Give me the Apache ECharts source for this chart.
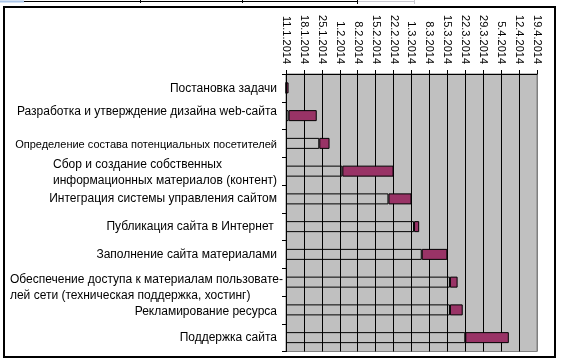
<!DOCTYPE html>
<html><head><meta charset="utf-8">
<script src="https://cdn.jsdelivr.net/npm/echarts@6/dist/echarts.min.js"></script>
<style>html,body{margin:0;padding:0;background:#fff}#c{width:561px;height:361px}</style>
</head><body><div id="c"></div>
<script>
// Tasks (top to bottom)
var tasks = [
  'Постановка задачи',
  'Разработка и утверждение дизайна web-сайта',
  'Определение состава потенциальных посетителей',
  'Сбор и создание собственных\nинформационных материалов (контент)',
  'Интеграция системы управления сайтом',
  'Публикация сайта в Интернет ',
  'Заполнение сайта материалами',
  'Обеспечение доступа к материалам пользовате-\nлей сети (техническая поддержка, хостинг)',
  'Рекламирование ресурса',
  'Поддержка сайта'
];
// Start dates and durations (days)
var startDates = ['2014-01-11','2014-01-12','2014-01-24','2014-02-02','2014-02-20','2014-03-02','2014-03-05','2014-03-16','2014-03-16','2014-03-22'];
var durations = [1, 11, 4, 20, 9, 2, 10, 3, 5, 17];
// Axis tick labels (weekly)
var tickLabels = ['11.1.2014','18.1.2014','25.1.2014','1.2.2014','8.2.2014','15.2.2014','22.2.2014','1.3.2014','8.3.2014','15.3.2014','22.3.2014','29.3.2014','5.4.2014','12.4.2014','19.4.2014'];
var axisStart = '2014-01-11';

function dayNum(s){ var p = s.split('-'); return Date.UTC(+p[0], +p[1]-1, +p[2]) / 86400000; }
var base = dayNum(axisStart);
var offsets = startDates.map(function(s){ return dayNum(s) - base; });

var FONT = "'Liberation Sans', Arial, sans-serif";
var labelStyleByIndex = {
  0: { padding: [2, 0, 0, 0] },
  1: { padding: [0, 0, 8, 0] },
  2: { fontSize: 11, padding: [3, 0, 0, 0] },
  3: { padding: [4, 0, 0, 0] },
  7: { padding: [12, -6, 0, 0] },
  8: { padding: [3, 0, 0, 0] }
};
var yData = tasks.map(function(t, i){
  var o = { value: t };
  if (labelStyleByIndex[i]) o.textStyle = labelStyleByIndex[i];
  return o;
});
var splitColors = tickLabels.map(function(_, i){ return i === tickLabels.length - 1 ? '#808080' : '#000'; });

var chart = echarts.init(document.getElementById('c'), null, {renderer: 'canvas'});
chart.setOption({
  animation: false,
  backgroundColor: '#fff',
  grid: { left: 286, right: 24, top: 74, bottom: 9.5, show: true, backgroundColor: '#C0C0C0', borderColor: '#808080', borderWidth: 1, containLabel: false },
  xAxis: {
    type: 'value', position: 'top', min: 0, max: (tickLabels.length - 1) * 7, interval: 7,
    axisLine: { show: true, lineStyle: { color: '#000', width: 1 } },
    axisTick: { show: true, length: 4, lineStyle: { color: '#000' } },
    splitLine: { show: true, lineStyle: { color: splitColors, width: 1 } },
    axisLabel: {
      rotate: 90, margin: 10, color: '#000', fontSize: 11, fontFamily: FONT, padding: [8, 0, 0, 0],
      formatter: function(v){ return tickLabels[Math.round(v / 7)] || ''; }
    }
  },
  yAxis: {
    type: 'category', inverse: true, data: yData,
    axisLine: { show: true, lineStyle: { color: '#000', width: 1 } },
    axisTick: { show: true, length: 4, inside: false, lineStyle: { color: '#000' } },
    splitLine: { show: false },
    axisLabel: {
      margin: 9, color: '#000', fontSize: 12, fontFamily: FONT, align: 'right', lineHeight: 16,
      formatter: function(v){
        if (v.indexOf('\n') < 0) return v;
        return v.split('\n').map(function(l){ return '{a|' + l + '}'; }).join('\n');
      },
      rich: { a: { align: 'left', fontSize: 12, lineHeight: 16, fontFamily: FONT, color: '#000' } }
    }
  },
  series: [
    { type: 'bar', stack: 'g', data: offsets, barWidth: 11,
      itemStyle: { color: 'rgba(0,0,0,0)', borderColor: '#000', borderWidth: 1 }, silent: true },
    { type: 'bar', stack: 'g', data: durations, barWidth: 11,
      itemStyle: { color: '#993366', borderColor: '#000', borderWidth: 1 } }
  ],
  graphic: [
    { type: 'rect', shape: { x: 4, y: 7, width: 551, height: 350 }, style: { fill: 'none', stroke: '#000', lineWidth: 2 }, silent: true },
    { type: 'line', shape: { x1: 0, y1: 1.5, x2: 24, y2: 1.5 }, style: { stroke: '#A9C4E8', lineWidth: 2 } },
    { type: 'line', shape: { x1: 24, y1: 1.5, x2: 357, y2: 1.5 }, style: { stroke: '#000', lineWidth: 1 } },
    { type: 'line', shape: { x1: 140.5, y1: 0, x2: 140.5, y2: 3 }, style: { stroke: '#000', lineWidth: 1 } },
    { type: 'line', shape: { x1: 242.5, y1: 0, x2: 242.5, y2: 3 }, style: { stroke: '#000', lineWidth: 1 } },
    { type: 'line', shape: { x1: 357.5, y1: 0, x2: 357.5, y2: 4 }, style: { stroke: '#000', lineWidth: 1 } },
    { type: 'line', shape: { x1: 358, y1: 1.5, x2: 414, y2: 1.5 }, style: { stroke: '#C8C8D0', lineWidth: 1 } },
    { type: 'line', shape: { x1: 414.5, y1: 0, x2: 414.5, y2: 4 }, style: { stroke: '#C8C8D0', lineWidth: 1 } }
  ]
});
</script>
</body></html>
